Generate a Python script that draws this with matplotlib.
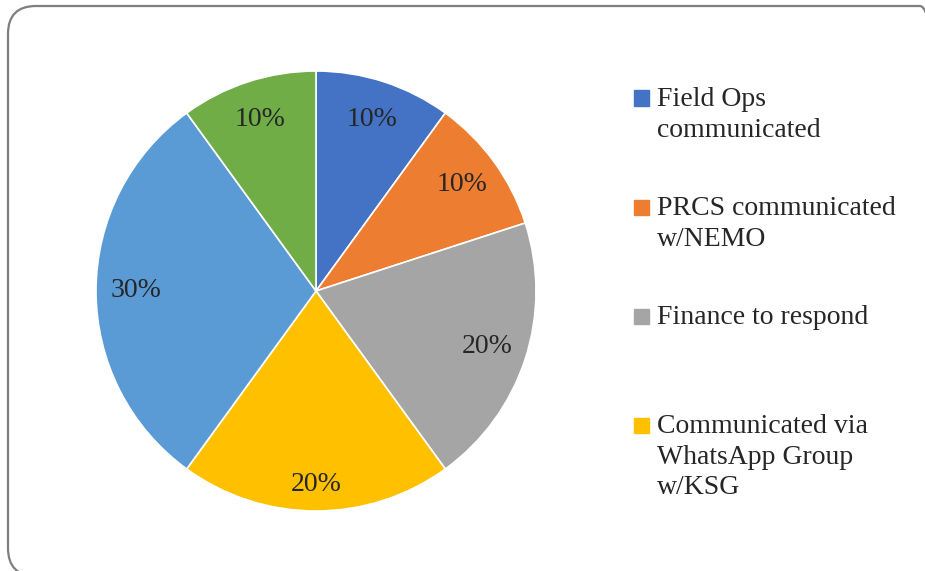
import matplotlib.pyplot as plt
from matplotlib.patches import FancyBboxPatch, Rectangle
from matplotlib.transforms import IdentityTransform

# slice data (clockwise from 12 o'clock)
labels = ['Field Ops\ncommunicated', 'PRCS communicated\nw/NEMO', 'Finance to respond',
          'Communicated via\nWhatsApp Group\nw/KSG', 'Other', 'Other 2']
values = [10, 10, 20, 20, 30, 10]
colors = ['#4472C4', '#ED7D31', '#A5A5A5', '#FFC000', '#5B9BD5', '#70AD47']
n_legend = 4  # only the first four fit in the legend box

txt_color = '#262626'
plt.rcParams['font.family'] = ['Liberation Serif', 'DejaVu Serif']

W, H = 925, 571
fig = plt.figure(figsize=(W / 100, H / 100), dpi=100)

# rounded border around the chart area (right and bottom run off the image)
border = FancyBboxPatch((8, -5), 940, 570, boxstyle='round,pad=0,rounding_size=28',
                        transform=IdentityTransform(), fill=False,
                        edgecolor='#7f7f7f', linewidth=1.6)
fig.patches.append(border)

# pie, center (316, 291) px, radius 220 px
cx, cy, r = 316, 291, 220
ax = fig.add_axes([(cx - r) / W, (H - cy - r) / H, 2 * r / W, 2 * r / H])
wedges, texts, autotexts = ax.pie(values, colors=colors, startangle=90, counterclock=False,
                                  autopct='%1.0f%%', pctdistance=0.82,
                                  wedgeprops=dict(edgecolor='white', linewidth=1.2),
                                  textprops=dict(fontsize=20, color=txt_color))
autotexts[3].set_position((0, -0.88))
ax.set_xlim(-1, 1)
ax.set_ylim(-1, 1)
ax.set_aspect('equal')

# legend drawn by hand so the entries sit in evenly spaced slots
for i in range(n_legend):
    y = 98 + 109 * i
    fig.patches.append(Rectangle((634 / W, (H - y - 7.5) / H), 15 / W, 15 / H,
                                 transform=fig.transFigure, color=colors[i]))
    fig.text(657 / W, (H - y + 11) / H, labels[i], fontsize=20, color=txt_color,
             va='top', ha='left', linespacing=1.3)

fig.savefig('out.png', dpi=100)
